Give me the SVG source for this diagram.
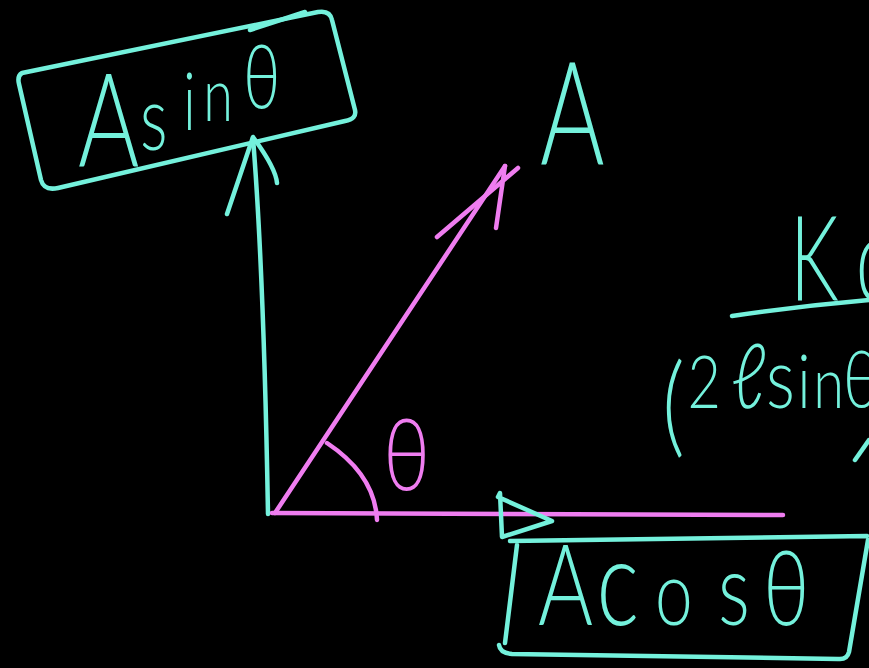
<svg xmlns="http://www.w3.org/2000/svg" width="869" height="668" viewBox="0 0 869 668">
<style>
.cy{fill:none;stroke:#74f1dc;stroke-width:4.5;stroke-linecap:round;stroke-linejoin:round}
.pk{fill:none;stroke:#ef7df0;stroke-width:4.5;stroke-linecap:round;stroke-linejoin:round}
.tc{fill:#74f1dc;font-family:Lato,Inter,"Open Sans",sans-serif;font-weight:300}
.tp{fill:#ef7df0;font-family:Lato,Inter,"Open Sans",sans-serif;font-weight:300}
</style>
<rect width="869" height="668" fill="#000"/>
<g id="connectors">
<path class="cy" d="M268,514 C266,400 262,250 253,138"/>
<path class="cy" d="M227,214 L253,137 C264,152 276,170 277,183"/>
<path class="pk" d="M275,513 L505,166"/>
<path class="pk" d="M437,237 L518,168 M496,228 L505,166"/>
<path class="pk" d="M272,513 L783,515"/>
<path class="pk" d="M327,443 Q375,475 377,520"/>
<path class="cy" d="M498,497 L500,493 L502,537 L552,521 Z"/>
</g>
<g id="asin-box">
<path class="cy" d="M22,73 L318,12 Q330,10 332,20 L355,110 Q357,119 345,121 L58,188 Q44,191 41,180 L19,84 Q17,76 22,73"/>
<path class="cy" d="M250,30 L305,12"/>
<text class="tc" transform="translate(78,167) scale(0.72,1)"><tspan x="0" y="0" font-size="130">A</tspan><tspan x="86" y="-17" font-size="90">s</tspan><tspan x="146" y="-37" font-size="80">i</tspan><tspan x="174" y="-46" font-size="75">n</tspan><tspan x="229" y="-59" font-size="88">θ</tspan></text>
</g>
<g id="a-label">
<text class="tc" transform="translate(540,165) scale(0.68,1)" font-size="145">A</text>
</g>
<g id="theta-label">
<text class="tp" transform="translate(383,490) scale(0.8,1)" font-size="100">θ</text>
</g>
<g id="acos-box">
<path class="cy" d="M510,541 L867,536 M868,540 L849,652 Q847,660 838,659 L512,654 Q500,653 499,645 M517,545 L505,643"/>
<text class="tc" transform="translate(538,625) scale(0.75,1)"><tspan x="0" y="0" font-size="112">A</tspan><tspan x="78" y="0" font-size="120">c</tspan><tspan x="156" y="0" font-size="90">o</tspan><tspan x="240" y="0" font-size="100">s</tspan><tspan x="300" y="0" font-size="105">θ</tspan></text>
</g>
<g id="formula">
<text class="tc" transform="translate(790,300) scale(0.65,1)" font-size="118"><tspan x="0">K</tspan><tspan x="101">q</tspan></text>
<path class="cy" d="M732,316 Q800,306 869,300"/>
<text class="tc" transform="translate(662,408) scale(0.8,1)"><tspan x="0" y="35" font-size="110">(</tspan><tspan x="32" y="0" font-size="72">2</tspan><tspan x="86" y="0" font-size="90">ℓ</tspan><tspan x="130" y="0" font-size="85">s</tspan><tspan x="169" y="0" font-size="75">i</tspan><tspan x="189" y="0" font-size="70">n</tspan><tspan x="226" y="0" font-size="80">θ</tspan></text>
<path class="cy" d="M855,460 Q862,450 869,440"/>
</g>
</svg>
